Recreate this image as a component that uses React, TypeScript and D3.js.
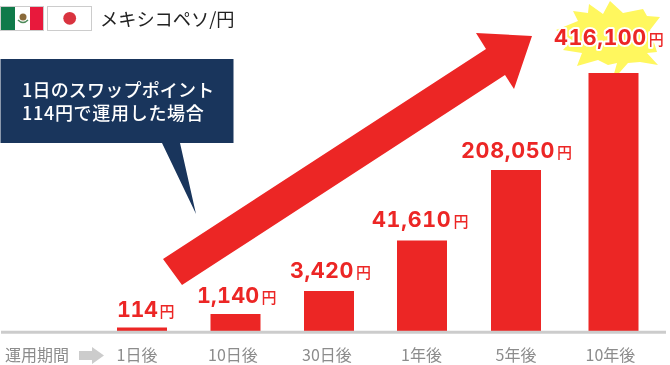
import React from "react";
import * as d3 from "d3";

const categories = ["1日後", "10日後", "30日後", "1年後", "5年後", "10年後"];
const values = [114, 1140, 3420, 41610, 208050, 416100];
const valueLabels = ["114", "1,140", "3,420", "41,610", "208,050", "416,100"];
// The drawing's vertical axis is not linear: levels on the pixel baseline for each value.
const axisKnots = [0, 114, 1140, 3420, 41610, 208050, 416100];
const axisRange = [331, 327.5, 314, 291, 240.5, 170, 73];
const barCenters = [142, 235.5, 329, 422, 516, 613.5];
const tickCenters = [137, 233, 327, 421.5, 516, 610.5];
const labelLefts = [117, 197, 290, 372, 461, 554];
const labelBaselines = [317, 303, 278, 227, 158, 45];
const labelTracking = [-0.4, 0.2, 0.5, 0.7, 0.7, 0.5];
const arrowPts: [number, number][] = [[163, 259], [182, 285], [505, 75], [514, 89], [532, 36], [476, 33], [486, 49]];
const burstPts: [number, number][] = [[610, 1], [603, 14], [589, 4], [588, 13], [573, 11], [578, 21], [556, 30], [572, 40], [563, 50], [582, 53], [577, 66], [598, 60], [608, 65], [617, 63], [612, 81], [628, 63], [640, 62], [658, 65], [647, 53], [657, 52], [650, 30], [660, 17], [647, 16], [643, 9], [623, 13]];

const y = d3.scaleLinear().domain(axisKnots).range(axisRange);
const x = d3.scaleOrdinal<string, number>().domain(categories).range(barCenters);
const tickX = d3.scaleOrdinal<string, number>().domain(categories).range(tickCenters);
const line = d3.line();
const BAR_W = 50;
const RED = "#ec2625";
const CJK = "'Noto Sans CJK JP', sans-serif";

export default function App() {
  return (
    <svg width={670} height={365} style={{ position: "fixed", left: 0, top: 0, display: "block" }} fontFamily={CJK}>
      {/* flags */}
      <rect x={0.5} y={6.5} width={43} height={24} fill="#fff" stroke="#ccc" />
      <rect x={1} y={7} width={14} height={23} fill="#0f7a4a" />
      <rect x={30} y={7} width={13} height={23} fill="#e8193c" />
      <circle cx={23} cy={17} r={3.5} fill="#8a6a3a" />
      <path d="M18 20 Q23 25 28 20" fill="none" stroke="#4d8a5a" strokeWidth={1.5} />
      <rect x={47.5} y={6.5} width={44} height={24} fill="#fff" stroke="#ccc" />
      <circle cx={69.7} cy={18.3} r={6.4} fill="#d9333f" />
      <text x={100} y={26} fontSize={18.2} fill="#222">メキシコペソ/円</text>

      {/* callout */}
      <path d={line([[0.5, 59], [233.5, 59], [233.5, 143], [180, 143], [196, 214], [162, 143], [0.5, 143]])! + "Z"} fill="#19355c" />
      <text x={22} y={97} fontSize={18} letterSpacing={0.2} fontWeight={500} fill="#fff">1日のスワップポイント</text>
      <text x={22} y={120} fontSize={18} letterSpacing={0.7} fontWeight={500} fill="#fff">114円で運用した場合</text>

      {/* big arrow */}
      <path d={line(arrowPts)! + "Z"} fill={RED} />

      {/* burst */}
      <path d={line(burstPts)! + "Z"} fill="#fff75e" />

      {/* bars */}
      {categories.map((c, i) => (
        <rect key={c} x={x(c)! - BAR_W / 2} y={y(values[i])} width={BAR_W} height={y(0) - y(values[i])} fill={RED} />
      ))}

      {/* baseline */}
      <line x1={1} x2={666} y1={332.3} y2={332.3} stroke="#ccc" strokeWidth={3} />

      {/* value labels */}
      {categories.map((c, i) => (
        <text key={c} x={labelLefts[i]} y={labelBaselines[i]} fill={RED} fontWeight={700}
          fontFamily="Inter, sans-serif" fontSize={21.5} letterSpacing={labelTracking[i]} style={{ fontVariantNumeric: "tabular-nums" }}
          stroke="#fff" strokeWidth={i === 5 ? 4 : 0} paintOrder="stroke" strokeLinejoin="round">
          {valueLabels[i]}
          <tspan dx={2} fontFamily={CJK} fontSize={15} fontWeight={500}>円</tspan>
        </text>
      ))}

      {/* x axis */}
      <text x={5} y={361} fontSize={16} fill="#8c8c8c">運用期間</text>
      <path d={line([[79, 351], [92, 351], [92, 347], [104, 355.5], [92, 364], [92, 360], [79, 360]])! + "Z"} fill="#ccc" />
      {categories.map((c) => (
        <text key={c} x={tickX(c)!} y={361} textAnchor="middle" fontSize={16} fill="#8c8c8c">{c}</text>
      ))}
    </svg>
  );
}
